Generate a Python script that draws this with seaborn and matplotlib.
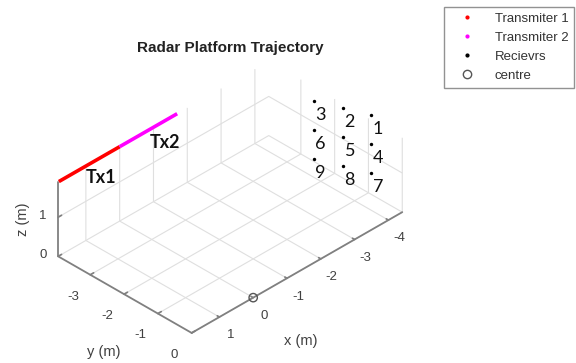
import matplotlib
matplotlib.use("Agg")
import matplotlib.pyplot as plt
from matplotlib.lines import Line2D
from matplotlib.transforms import IdentityTransform
from mpl_toolkits.mplot3d import proj3d
import seaborn as sns

sns.set_theme(style="white")
plt.rcParams['font.family'] = ['Liberation Sans', 'DejaVu Sans']
plt.rcParams['axes.unicode_minus'] = False

# transmitter track: x positions, fixed y and height
tx1_x = [1.8, 0.0]
tx2_x = [0.0, -1.7]
track_y = -3.95
track_z = 1.9

# 3x3 receiver array (columns 1..3 from the right, rows top..bottom)
rx_col_x = [-4.54, -4.30, -4.06]
rx_col_y = [-1.06, -1.65, -2.27]
rx_row_z = [1.89, 1.15, 0.41]
rx_labels = ['1', '2', '3', '4', '5', '6', '7', '8', '9']

centre_xyz = [0.0, 0.0, 0.0]

x_lim = (-4.41, 1.82)
y_lim = (-3.95, 0.0)
z_lim = (0.0, 1.9)
x_ticks = [-4, -3, -2, -1, 0, 1]
y_ticks = [-3, -2, -1, 0]
z_ticks = [0, 1]

fig = plt.figure(figsize=(5.76, 3.63), dpi=100)
ax = fig.add_axes([0.012, -0.005, 0.76, 0.9], projection='3d')
ax.set_proj_type('ortho')
ax.view_init(elev=35, azim=45)
ax.set_xlim(*x_lim)
ax.set_ylim(*y_lim)
ax.set_zlim(*z_lim)
ax.set_box_aspect((x_lim[1] - x_lim[0], y_lim[1] - y_lim[0], z_lim[1] - z_lim[0]), zoom=1.082)

grid_col = '#dfdfdf'
axis_col = '#808080'
for a in (ax.xaxis, ax.yaxis, ax.zaxis):
    a.set_pane_color((1, 1, 1, 0))
    a.pane.set_edgecolor('none')
    a._axinfo['grid']['color'] = grid_col
    a._axinfo['grid']['linewidth'] = 0.8
    a._axinfo['tick']['inward_factor'] = 0.0
    a._axinfo['tick']['outward_factor'] = 0.2
    a.line.set_color(axis_col)
    a.line.set_linewidth(1.3)
ax.zaxis.pane.set_edgecolor(grid_col)

ax.set_xticks(x_ticks)
ax.set_yticks(y_ticks)
ax.set_zticks(z_ticks)
ax.set_zticklabels([])
ax.tick_params(labelsize=9.5, labelcolor='#404040', color=axis_col, pad=2)

ax.plot(tx1_x, [track_y] * 2, [track_z] * 2, color='red', lw=2.6,
        solid_capstyle='butt', clip_on=False)
ax.plot(tx2_x, [track_y] * 2, [track_z] * 2, color='magenta', lw=2.6,
        solid_capstyle='butt', clip_on=False)

rx_x, rx_y, rx_z = [], [], []
for z in rx_row_z:
    for cx, cy in zip(rx_col_x, rx_col_y):
        rx_x.append(cx)
        rx_y.append(cy)
        rx_z.append(z)
ax.scatter(rx_x, rx_y, rx_z, s=6, c='black', linewidths=0, depthshade=False, clip_on=False)
ax.scatter([centre_xyz[0]], [centre_xyz[1]], [centre_xyz[2]], s=36, facecolors='none',
           edgecolors='#555555', linewidths=1.0, depthshade=False, clip_on=False)

# projected pixel position of a 3D point, used to pin 2D labels next to it
fig.canvas.draw()


def screen(x, y, z):
    px, py, _ = proj3d.proj_transform(x, y, z, ax.get_proj())
    return ax.transData.transform((px, py))


def label_at(xyz, s, dx, dy, **kw):
    u, v = screen(*xyz)
    fig.text(u + dx, v + dy, s, transform=IdentityTransform(), ha='center', va='center', **kw)


for px, py, pz, s in zip(rx_x, rx_y, rx_z, rx_labels):
    label_at((px, py, pz), s, 7, -14, fontsize=13, family='Lato', color='#111111')

label_at((sum(tx1_x) / 2, track_y, track_z), 'Tx1', 12, -13,
         fontsize=13, family='Lato', fontweight='bold', color='#111111')
label_at((sum(tx2_x) / 2, track_y, track_z), 'Tx2', 17, -12,
         fontsize=13, family='Lato', fontweight='bold', color='#111111')

# z tick labels sit straight left of the z axis, as in the source figure
for zt in z_ticks:
    label_at((x_lim[1], y_lim[0], zt), str(zt), -15, 1, fontsize=9.5, color='#404040')

label_at((sum(x_lim) / 2, y_lim[1], z_lim[0]), 'x (m)', 4, -68, fontsize=10.5, color='#404040')
label_at((x_lim[1], sum(y_lim) / 2, z_lim[0]), 'y (m)', -21, -57, fontsize=10.5, color='#404040')
label_at((x_lim[1], y_lim[0], sum(z_lim) / 2), 'z (m)', -35, 0, fontsize=10.5,
         color='#404040', rotation=90)

fig.text(0.40, 0.868, 'Radar Platform Trajectory', ha='center', va='center',
         fontsize=11, fontweight='bold', color='#222222')

handles = [
    Line2D([], [], ls='', marker='.', color='red', markersize=4),
    Line2D([], [], ls='', marker='.', color='magenta', markersize=4),
    Line2D([], [], ls='', marker='.', color='black', markersize=4),
    Line2D([], [], ls='', marker='o', markerfacecolor='none', markeredgecolor='#555555', markersize=6),
]
leg = fig.legend(handles, ['Transmiter 1', 'Transmiter 2', 'Recievrs', 'centre'],
                 loc='upper right', bbox_to_anchor=(0.997, 0.981), borderaxespad=0,
                 fontsize=9.5, frameon=True, fancybox=False, edgecolor='#777777',
                 handletextpad=0.8, labelspacing=0.5, borderpad=0.45, handlelength=2.6)
leg.get_frame().set_linewidth(1.0)
for t in leg.get_texts():
    t.set_color('#333333')

fig.savefig('out.png', dpi=100)
